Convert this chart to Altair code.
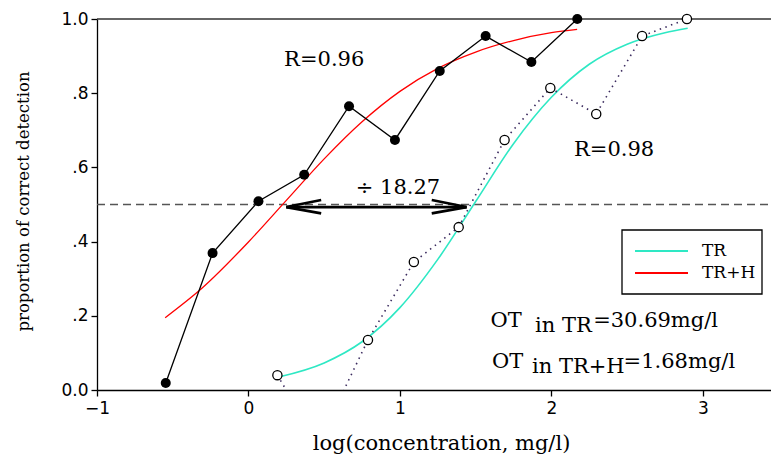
import altair as alt
import pandas as pd

# ---- data ----
trh_x = [-0.546, -0.237, 0.066, 0.368, 0.664, 0.967, 1.263, 1.566, 1.868, 2.171]
trh_y = [0.019, 0.369, 0.509, 0.580, 0.765, 0.674, 0.860, 0.954, 0.884, 1.0]

tr_x = [0.191, 0.46, 0.789, 1.092, 1.388, 1.691, 1.993, 2.296, 2.599, 2.895]
tr_y = [0.040, -0.145, 0.135, 0.345, 0.439, 0.674, 0.814, 0.744, 0.954, 1.0]

fit_trh_x = [-0.55, -0.3, 0.0, 0.25, 0.5, 0.75, 1.0, 1.25, 1.5, 1.75, 2.0, 2.17]
fit_trh_y = [0.195, 0.277, 0.399, 0.511, 0.623, 0.723, 0.805, 0.867, 0.911, 0.942, 0.963, 0.972]

fit_tr_x = [0.2, 0.5, 0.75, 1.0, 1.25, 1.5, 1.75, 2.0, 2.25, 2.5, 2.75, 2.9]
fit_tr_y = [0.035, 0.073, 0.130, 0.222, 0.352, 0.508, 0.664, 0.789, 0.878, 0.932, 0.963, 0.975]

x_ticks = [-1, 0, 1, 2, 3]
y_ticks = [0, 0.2, 0.4, 0.6, 0.8, 1.0]

legend_labels = ["TR", "TR+H"]
legend_colors = ["#2ee8c4", "#ff0000"]

SERIF = "DejaVu Serif"
SANS = "DejaVu Sans"

xs = alt.Scale(domain=[-1, 3.45], nice=False, zero=False)
ys = alt.Scale(domain=[0, 1], nice=False, zero=False)

X = alt.X("x:Q", scale=xs, axis=alt.Axis(
    title="log(concentration, mg/l)", values=x_ticks, grid=False, labelFlush=False,
    labelFont=SANS, labelFontSize=17, labelColor="black", labelPadding=4,
    tickSize=6, tickColor="black", domainColor="black", domainWidth=1.3, tickWidth=1.3,
    titleFont=SERIF, titleFontSize=21, titleFontWeight="normal", titleColor="black",
    titleX=344, titleY=59, titleBaseline="alphabetic"))
Y = alt.Y("y:Q", scale=ys, axis=alt.Axis(
    title="proportion of correct detection", values=y_ticks, grid=False, labelFlush=False,
    labelExpr="datum.value == 0 ? '0.0' : (datum.value == 1 ? '1.0' : '.' + format(datum.value * 10, 'd'))",
    labelFont=SANS, labelFontSize=17, labelColor="black", labelPadding=3,
    tickSize=6, tickColor="black", domainColor="black", domainWidth=1.3, tickWidth=1.3,
    titleFont=SERIF, titleFontSize=16.5, titleFontWeight="normal", titleColor="black",
    titleX=-74, titleY=182, titleBaseline="middle", titleAngle=270))

df_trh = pd.DataFrame({"x": trh_x, "y": trh_y})
df_tr = pd.DataFrame({"x": tr_x, "y": tr_y})
df_fit_trh = pd.DataFrame({"x": fit_trh_x, "y": fit_trh_y})
df_fit_tr = pd.DataFrame({"x": fit_tr_x, "y": fit_tr_y})

one = alt.Data(values=[{}])

# top frame line and dashed 0.5 reference line
top_rule = alt.Chart(pd.DataFrame({"x": [-1], "x2": [3.45], "y": [1.0]})).mark_rule(
    color="#333333", strokeWidth=1.3).encode(x=X, x2="x2:Q", y=Y)
half_rule = alt.Chart(pd.DataFrame({"x": [-1], "x2": [3.45], "y": [0.5]})).mark_rule(
    color="#555555", strokeWidth=1.5, strokeDash=[8, 5]).encode(x=X, x2="x2:Q", y=Y)

fit_red = alt.Chart(df_fit_trh).mark_line(color="#ff0000", strokeWidth=1.3, interpolate="monotone").encode(x=X, y=Y)
fit_cyan = alt.Chart(df_fit_tr).mark_line(color="#2ee8c4", strokeWidth=1.6, interpolate="monotone").encode(x=X, y=Y)

line_trh = alt.Chart(df_trh).mark_line(color="black", strokeWidth=1.3).encode(x=X, y=Y)
line_tr = alt.Chart(df_tr).mark_line(color="#3a2a5e", strokeWidth=1.6, strokeDash=[1.5, 4.5], clip=True).encode(x=X, y=Y)

pts_trh = alt.Chart(df_trh).mark_point(filled=True, color="black", size=100, opacity=1).encode(x=X, y=Y)
pts_tr = alt.Chart(df_tr).transform_filter("datum.y >= 0").mark_point(
    filled=False, fill="white", color="black", strokeWidth=1.3, size=85, opacity=1).encode(x=X, y=Y)

# double-headed arrow
arrow_df = pd.DataFrame({
    "x": [0.25, 0.25, 0.25, 1.44, 1.44],
    "x2": [1.44, 0.48, 0.48, 1.21, 1.21],
    "y": [0.493, 0.493, 0.493, 0.493, 0.493],
    "y2": [0.493, 0.512, 0.476, 0.512, 0.476],
})
arrow = alt.Chart(arrow_df).mark_rule(color="black", strokeWidth=2.6).encode(x=X, x2="x2:Q", y=Y, y2="y2:Q")

# text annotations
mid_text = pd.DataFrame({
    "x": [0.5, 2.414, 0.987],
    "y": [0.8895, 0.647, 0.5445],
    "t": ["R=0.96", "R=0.98", "\u00f7 18.27"],
})
mid_labels = alt.Chart(mid_text).mark_text(font=SERIF, fontSize=21, color="black", baseline="middle", align="center").encode(
    x=X, y=Y, text="t:N")

ot_text = pd.DataFrame({
    "x": [1.701, 2.079, 2.688, 1.711, 2.178, 2.845],
    "y": [0.170, 0.156, 0.170, 0.0593, 0.0458, 0.0593],
    "t": ["OT", "in TR", "=30.69mg/l", "OT", "in TR+H", "=1.68mg/l"],
})
ot_labels = alt.Chart(ot_text).mark_text(font=SERIF, fontSize=21, color="black", baseline="alphabetic", align="center").encode(
    x=X, y=Y, text="t:N")

# legend box (manual)
leg_box = alt.Chart(one).mark_rect(fill="white", stroke="black", strokeWidth=1.3).encode(
    x=alt.value(525), x2=alt.value(665), y=alt.value(211), y2=alt.value(275))
leg_line1 = alt.Chart(one).mark_rule(color=legend_colors[0], strokeWidth=2).encode(
    x=alt.value(538), x2=alt.value(591), y=alt.value(232))
leg_line2 = alt.Chart(one).mark_rule(color=legend_colors[1], strokeWidth=2).encode(
    x=alt.value(538), x2=alt.value(591), y=alt.value(254))
leg_t1 = alt.Chart(one).mark_text(font=SERIF, fontSize=17, color="black", align="left", baseline="middle", text=legend_labels[0]).encode(
    x=alt.value(605), y=alt.value(232))
leg_t2 = alt.Chart(one).mark_text(font=SERIF, fontSize=17, color="black", align="left", baseline="middle", text=legend_labels[1]).encode(
    x=alt.value(605), y=alt.value(254))

chart = alt.layer(
    top_rule, half_rule, fit_red, fit_cyan, line_trh, line_tr, arrow,
    pts_trh, pts_tr, mid_labels, ot_labels,
    leg_box, leg_line1, leg_line2, leg_t1, leg_t2,
).properties(
    width=674, height=371,
    padding={"left": 97, "top": 19, "right": 0, "bottom": 66},
    autosize=alt.AutoSizeParams(type="none"),
    background="white",
).configure_view(stroke=None)

chart.save("out.html", embed_options={"renderer": "svg", "actions": False})
